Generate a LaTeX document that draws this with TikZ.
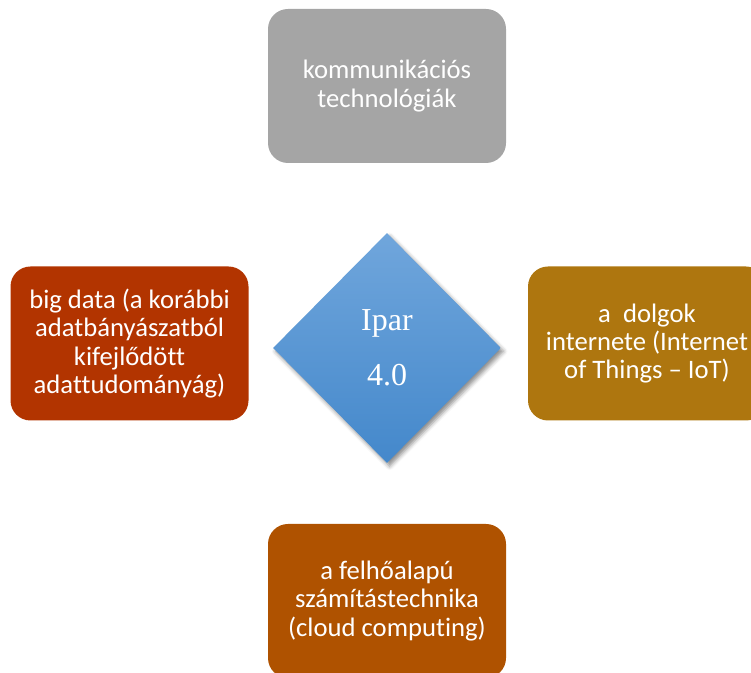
\documentclass[tikz,border=0pt]{standalone}
\usepackage{fontspec}
\setmainfont{Carlito}[Ligatures={NoCommon}]
\newfontfamily\iparfont{Liberation Serif}
\usetikzlibrary{shapes.geometric,shadows.blur}

\definecolor{szurke}{HTML}{A5A5A5}
\definecolor{voros}{HTML}{B23400}
\definecolor{okker}{HTML}{AE760F}
\definecolor{narancs}{HTML}{AF5200}
\definecolor{kekfent}{HTML}{70A6DC}
\definecolor{keklent}{HTML}{4488CB}

\begin{document}
\begin{tikzpicture}[x=0.75pt,y=-0.75pt]

      \clip (0,0) rectangle (751,673);

      \begin{scope}[every node/.style={rounded corners=15pt,minimum width=178.5pt,
          minimum height=115.5pt,inner sep=0pt,align=center,text=white,
          font=\fontsize{20}{21.3}\selectfont}]
        \node[fill=szurke]  (1) at (387,86)    {kommunikációs\\technológiák};
        \node[fill=voros]   (2) at (129.5,343.5) {big data (a korábbi\\adatbányászatból\\kifejlődött\\adattudományág)};
        \node[fill=okker]   (3) at (647,343.5) {a\ \ dolgok\\internete (Internet\\of Things -- IoT)};
        \node[fill=narancs] (4) at (387,601)   {a felhőalapú\\számítástechnika\\(cloud computing)};
      \end{scope}

      \node[diamond,aspect=1,minimum width=171pt,minimum height=172.5pt,inner sep=0pt,
        top color=kekfent,bottom color=keklent,text=white,align=center,
        font={\iparfont\fontsize{24}{41}\selectfont},
        blur shadow={shadow xshift=2pt,shadow yshift=-2.5pt,shadow blur radius=3pt,shadow opacity=45}]
        (5) at (387,348) {Ipar\\4.0};

    \end{tikzpicture}
\end{document}
